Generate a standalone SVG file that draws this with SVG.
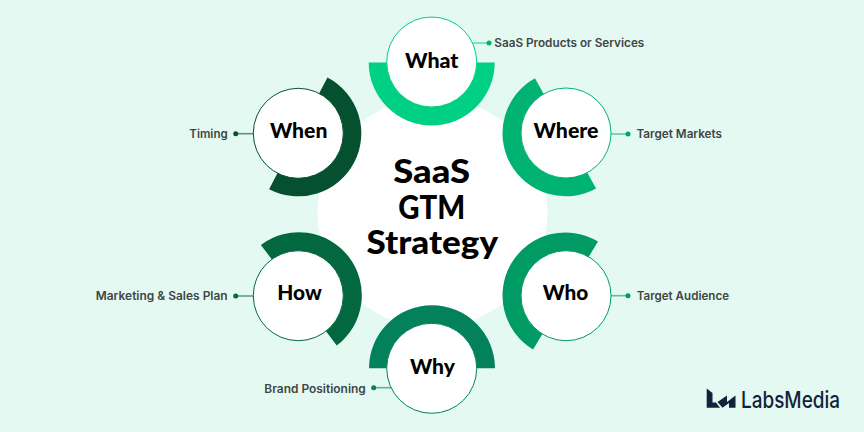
<svg xmlns="http://www.w3.org/2000/svg" width="864" height="432" viewBox="0 0 864 432">
<defs><path id="half" d="M-63 0A63 63 0 0 0 63 0H44A44 44 0 0 1 -44 0Z"/></defs>
<style>
.bg{fill:#e4f9f2}
.node{fill:#fff;stroke-width:1}
.t{font-family:"Lato","Liberation Sans",sans-serif;font-weight:900;font-size:20.500px;fill:#000;text-anchor:middle}
.c{font-family:"Lato","Liberation Sans",sans-serif;font-weight:900;font-size:32px;fill:#000;text-anchor:middle}
.l{font-family:"Inter","Liberation Sans",sans-serif;font-weight:600;font-size:11.500px;fill:#3f4644}
.lnk{stroke-width:1.6;stroke-opacity:.6;fill:none}
</style>
<rect class="bg" width="864" height="432"/>
<circle id="hub" cx="432.500" cy="212.500" r="115" fill="#fff"/>
<g id="connectors">
<path class="lnk" stroke="#00d084" d="M472 43H489"/><circle cx="489" cy="43" r="2.500" fill="#00b373"/>
<path class="lnk" stroke="#00b373" d="M611 134H628"/><circle cx="628" cy="134" r="2.500" fill="#00a56c"/>
<path class="lnk" stroke="#009a64" d="M611 295.700H628"/><circle cx="628" cy="295.700" r="2.500" fill="#009a64"/>
<path class="lnk" stroke="#03815a" d="M374 387.700H393"/><circle cx="373.700" cy="387.700" r="2.500" fill="#03815a"/>
<path class="lnk" stroke="#03683f" d="M235.700 296H254"/><circle cx="235.700" cy="296" r="2.500" fill="#03683f"/>
<path class="lnk" stroke="#04502f" d="M235.700 133.700H254"/><circle cx="235.700" cy="133.700" r="2.500" fill="#04502f"/>
</g>
<g id="what"><use href="#half" fill="#00d084" transform="translate(431.700 62.500)"/><circle class="node" stroke="#00d084" cx="431.700" cy="62" r="45"/><text class="t" x="431.700" y="68" textLength="53.500" lengthAdjust="spacingAndGlyphs">What</text></g>
<g id="where"><use href="#half" fill="#00b373" transform="translate(565.500 133.300) rotate(61)"/><circle class="node" stroke="#00b373" cx="566" cy="133" r="45"/><text class="t" x="566" y="138" textLength="65" lengthAdjust="spacingAndGlyphs">Where</text></g>
<g id="who"><use href="#half" fill="#009a64" transform="translate(565.500 295.500) rotate(121)"/><circle class="node" stroke="#009a64" cx="566" cy="295.700" r="45"/><text class="t" x="565.500" y="299.500" textLength="45.500" lengthAdjust="spacingAndGlyphs">Who</text></g>
<g id="why"><use href="#half" fill="#03815a" transform="translate(432 368.300) rotate(180)"/><circle class="node" stroke="#03815a" cx="431.700" cy="368.300" r="45"/><text class="t" x="432.500" y="374" textLength="45" lengthAdjust="spacingAndGlyphs">Why</text></g>
<g id="how"><use href="#half" fill="#03683f" transform="translate(298.800 295.200) rotate(233)"/><circle class="node" stroke="#03683f" cx="298.300" cy="295.700" r="45"/><text class="t" x="299.500" y="300" textLength="44.500" lengthAdjust="spacingAndGlyphs">How</text></g>
<g id="when"><use href="#half" fill="#04502f" transform="translate(298.300 133.300) rotate(-62.400)"/><circle class="node" stroke="#04502f" cx="298.300" cy="133.300" r="45"/><text class="t" x="298.700" y="138" textLength="57.500" lengthAdjust="spacingAndGlyphs">When</text></g>
<g id="center"><text class="c"><tspan x="431.700" y="183" textLength="77" lengthAdjust="spacingAndGlyphs">SaaS</tspan><tspan x="431.700" y="219" textLength="67" lengthAdjust="spacingAndGlyphs">GTM</tspan><tspan x="432.300" y="254" textLength="131.500" lengthAdjust="spacingAndGlyphs">Strategy</tspan></text></g>
<g id="labels">
<text class="l" x="494.300" y="47" textLength="150" lengthAdjust="spacingAndGlyphs">SaaS Products or Services</text>
<text class="l" x="636.500" y="138" textLength="85.500" lengthAdjust="spacingAndGlyphs">Target Markets</text>
<text class="l" x="636.700" y="300" textLength="92.300" lengthAdjust="spacingAndGlyphs">Target Audience</text>
<text class="l" x="264.300" y="392.500" textLength="101.500" lengthAdjust="spacingAndGlyphs">Brand Positioning</text>
<text class="l" x="95.700" y="300" textLength="132" lengthAdjust="spacingAndGlyphs">Marketing &amp; Sales Plan</text>
<text class="l" x="189.300" y="138" textLength="38.400" lengthAdjust="spacingAndGlyphs">Timing</text>
</g>
<g id="logo"><path fill="#10233a" d="M706.700 388.500L712.500 393V402.500H716L720 407.700H706.700ZM717.500 402L727 395.500V402L735.500 395.500V407.700H729V403L722.500 407.700Z"/><text x="741" y="407.500" font-family="Inter,'Liberation Sans',sans-serif" font-size="23" font-weight="500" fill="#10233a" textLength="99" lengthAdjust="spacingAndGlyphs">LabsMedia</text></g>
</svg>
